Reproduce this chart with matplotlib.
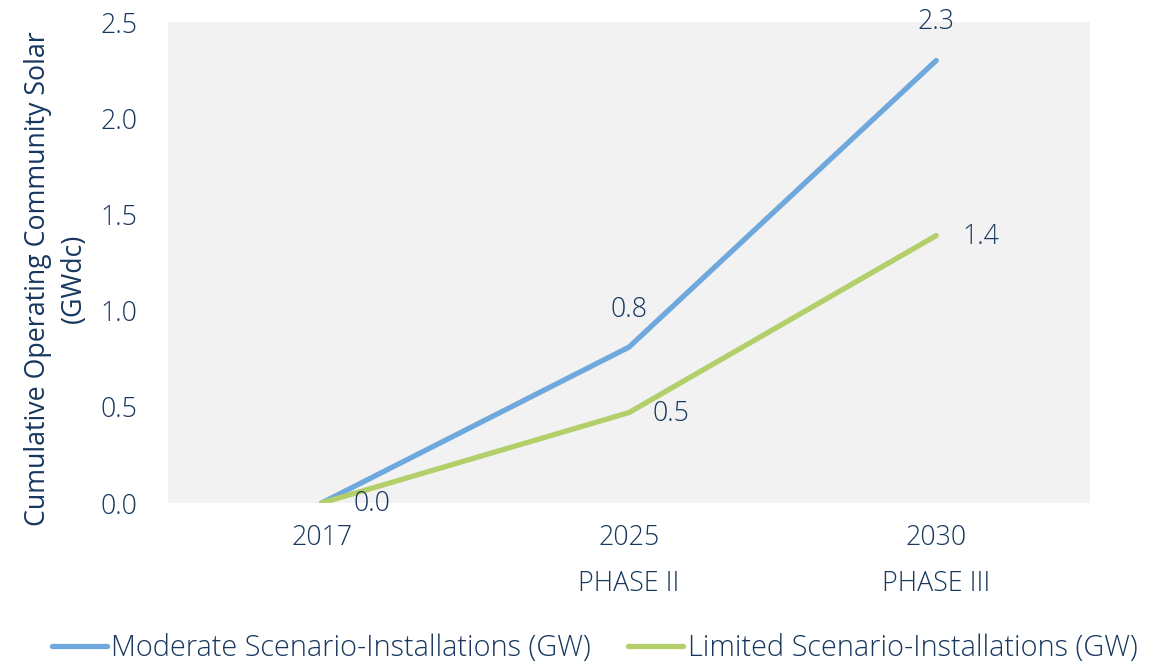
import matplotlib.pyplot as plt

years = ['2017', '2025', '2030']
phases = ['', 'PHASE II', 'PHASE III']
moderate = [0.0, 0.81, 2.30]
limited = [0.0, 0.47, 1.39]
moderate_labels = ['', '0.8', '2.3']
limited_labels = ['0.0', '0.5', '1.4']

text_color = '#17375e'
blue = '#6fa8dc'
green = '#b3cf6a'

plt.rcParams['font.family'] = ['Open Sans', 'DejaVu Sans']
plt.rcParams['font.weight'] = 'light'

fig = plt.figure(figsize=(11.57, 6.65), dpi=100)
ax = fig.add_axes([0.1452, 0.2436, 0.7968, 0.7233])
ax.set_facecolor('#f2f2f2')

x = range(len(years))
ax.plot(x, moderate, color=blue, lw=3.8, solid_capstyle='round',
        label='Moderate Scenario-Installations (GW)')
ax.plot(x, limited, color=green, lw=3.8, solid_capstyle='round',
        label='Limited Scenario-Installations (GW)')

fs = 19.3
# data labels
ax.annotate(moderate_labels[1], (1, moderate[1]), xytext=(0, 27), textcoords='offset points',
            ha='center', va='center', fontsize=fs, color=text_color)
ax.annotate(moderate_labels[2], (2, moderate[2]), xytext=(0, 28), textcoords='offset points',
            ha='center', va='center', fontsize=fs, color=text_color)
ax.annotate(limited_labels[0], (0, limited[0]), xytext=(36, -1), textcoords='offset points',
            ha='center', va='center', fontsize=fs, color=text_color)
ax.annotate(limited_labels[1], (1, limited[1]), xytext=(30, -1), textcoords='offset points',
            ha='center', va='center', fontsize=fs, color=text_color)
ax.annotate(limited_labels[2], (2, limited[2]), xytext=(32, -1), textcoords='offset points',
            ha='center', va='center', fontsize=fs, color=text_color)

ax.set_xlim(-0.5, 2.5)
ax.set_ylim(0, 2.5)
ax.set_yticks([0, 0.5, 1.0, 1.5, 2.0, 2.5])
ax.set_yticklabels(['%.1f' % v for v in [0, 0.5, 1.0, 1.5, 2.0, 2.5]])
ax.set_xticks(list(x))
ax.set_xticklabels([y if not p else y + '\n' + p for y, p in zip(years, phases)],
                   linespacing=1.85, va='top')
ax.tick_params(axis='both', length=0, labelsize=fs, colors=text_color)
ax.tick_params(axis='y', pad=22)
ax.tick_params(axis='x', pad=15)
for s in ax.spines.values():
    s.set_visible(False)

ax.set_ylabel('Cumulative Operating Community Solar\n(GWdc)', fontsize=fs,
              color=text_color, linespacing=1.35)
ax.yaxis.set_label_coords(-0.087, 0.467)

fig.legend(loc='lower center', bbox_to_anchor=(0.514, -0.036), ncol=2, frameon=False,
           fontsize=20.8, labelcolor=text_color, handlelength=1.9, handletextpad=0.15,
           columnspacing=1.3)

fig.savefig('out.png', dpi=100)
